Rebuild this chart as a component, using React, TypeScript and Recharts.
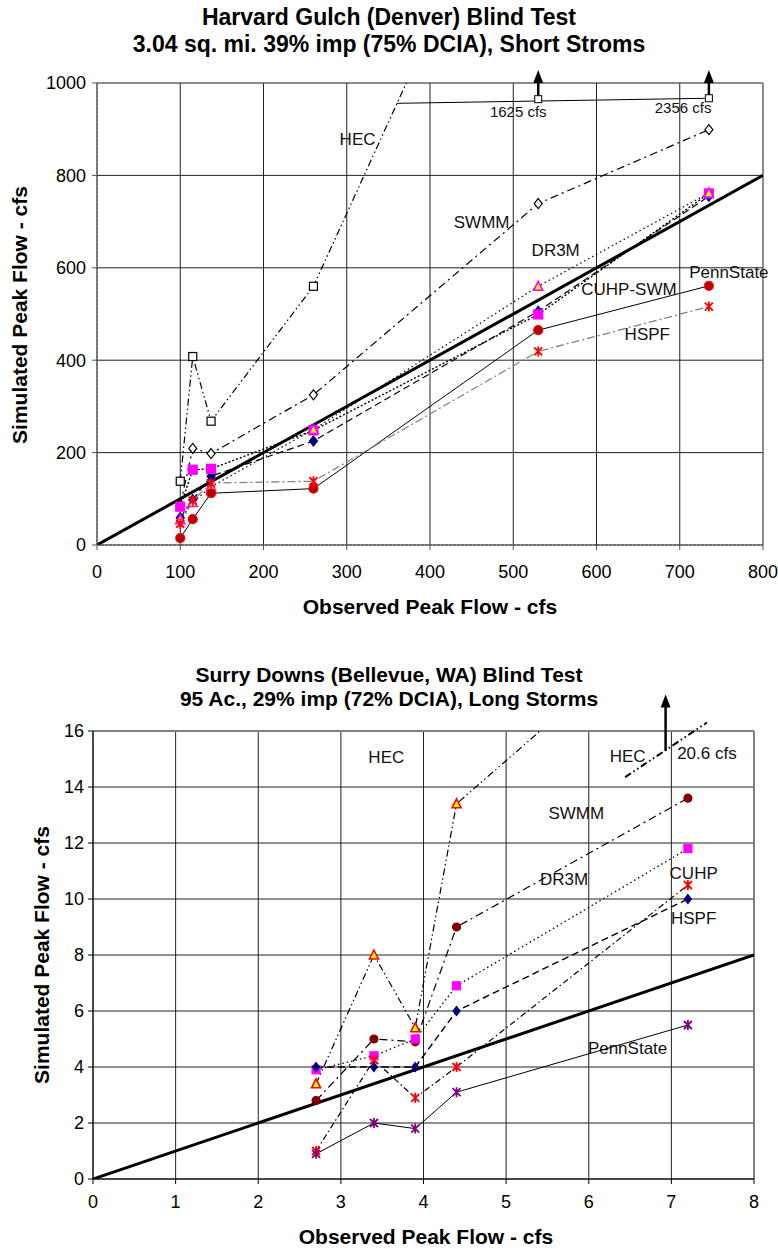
import React from "react";
import {
  CartesianGrid,
  Line,
  LineChart,
  ReferenceDot,
  ReferenceLine,
  XAxis,
  YAxis,
} from "recharts";

const FONT = "'Liberation Sans', Arial, Helvetica, sans-serif";

// Harvard Gulch (Denver), short storms - peak flows in cfs
const hgObserved = [100, 115, 137, 260, 530, 735];
const hgHEC = [138, 408, 268, 560, 1625, 2356];
const hgSWMM = [86, 209, 198, 325, 739, 899];
const hgDR3M = [55, 92, 126, 250, 560, 762];
const hgCUHP = [83, 163, 165, 248, 499, 761];
const hgSWM = [59, 98, 149, 225, 506, 755];
const hgPennState = [15, 56, 112, 122, 465, 561];
const hgHSPF = [46, 96, 134, 138, 419, 516];
const hgXTicks = [0, 100, 200, 300, 400, 500, 600, 700, 800];
const hgYTicks = [0, 200, 400, 600, 800, 1000];
const hgYMinor = [40, 80, 120, 160, 240, 280, 320, 360, 440, 480, 520, 560, 640, 680, 720, 760, 840, 880, 920, 960];

// Surry Downs (Bellevue, WA), long storms - peak flows in cfs
const sdObserved = [2.7, 3.4, 3.9, 4.4, 7.2];
const sdHEC = [3.4, 8.0, 5.4, 13.4, 20.6];
const sdSWMM = [2.8, 5.0, 4.9, 9.0, 13.6];
const sdDR3M = [3.9, 4.4, 5.0, 6.9, 11.8];
const sdCUHP = [1.0, 4.25, 2.9, 4.0, 10.5];
const sdHSPF = [4.0, 4.0, 4.0, 6.0, 10.0];
const sdPennState = [0.9, 2.0, 1.8, 3.1, 5.5];
const sdXTicks = [0, 1, 2, 3, 4, 5, 6, 7, 8];
const sdYTicks = [0, 2, 4, 6, 8, 10, 12, 14, 16];
const sdXMinor = [0.2, 0.4, 0.6, 0.8, 1.2, 1.4, 1.6, 1.8, 2.2, 2.4, 2.6, 2.8, 3.2, 3.4, 3.6, 3.8, 4.2, 4.4, 4.6, 4.8, 5.2, 5.4, 5.6, 5.8, 6.2, 6.4, 6.6, 6.8, 7.2, 7.4, 7.6, 7.8];
const sdYMinor = [1, 3, 5, 7, 9, 11, 13, 15];

const pts = (xs: number[], ys: number[]) => xs.map((x, i) => ({ x, y: ys[i] }));

type Kind = "openSquare" | "openDiamond" | "square" | "diamond" | "triangle" | "circle" | "asterisk";

function Marker({ kind, cx, cy, fill, stroke, s }: any) {
  const h = s / 2;
  switch (kind) {
    case "openSquare":
    case "square":
      return <rect x={cx - h} y={cy - h} width={s} height={s} fill={fill} stroke={stroke} strokeWidth={1.2} />;
    case "openDiamond":
    case "diamond":
      return (
        <path d={`M${cx},${cy - h - 1}L${cx + h},${cy}L${cx},${cy + h + 1}L${cx - h},${cy}Z`} fill={fill} stroke={stroke} strokeWidth={1.2} />
      );
    case "triangle":
      return (
        <path d={`M${cx},${cy - h - 1}L${cx + h + 0.5},${cy + h}L${cx - h - 0.5},${cy + h}Z`} fill={fill} stroke={stroke} strokeWidth={1.6} />
      );
    case "circle":
      return <circle cx={cx} cy={cy} r={h} fill={fill} stroke={stroke} strokeWidth={1.2} />;
    case "asterisk":
      return (
        <path
          d={`M${cx - h},${cy - h}L${cx + h},${cy + h}M${cx + h},${cy - h}L${cx - h},${cy + h}M${cx},${cy - h - 1}L${cx},${cy + h + 1}`}
          stroke={stroke}
          strokeWidth={1.8}
          fill="none"
        />
      );
  }
  return null;
}

const dotFor = (kind: Kind, fill: string, stroke: string, s: number, maxY: number) => (p: any) => {
  const { cx, cy, index, payload } = p;
  if (cx == null || cy == null || payload.y > maxY) return <g key={`d${index}`} />;
  return <Marker key={`d${index}`} kind={kind} cx={cx} cy={cy} fill={fill} stroke={stroke} s={s} />;
};

const textShape = (text: string, size = 17) => (p: any) => (
  <text x={p.cx} y={p.cy} textAnchor="middle" dominantBaseline="central" fontSize={size} fontFamily={FONT} fill="#111">
    {text}
  </text>
);

const arrowHead = (p: any) => <path d={`M${p.cx},${p.cy}L${p.cx - 5},${p.cy + 13}L${p.cx + 5},${p.cy + 13}Z`} fill="#000" />;
const boxShape = (p: any) => <rect x={p.cx - 3.5} y={p.cy - 3.5} width={7} height={7} fill="#fff" stroke="#000" strokeWidth={1} />;

const DDOT = "7 3 1.5 3 1.5 3";
const DOT1 = "8 4 2 4";

const hgSeries = [
  { name: "HEC", ys: hgHEC, kind: "openSquare", fill: "#fff", stroke: "#000", s: 8, line: "#000", dash: DDOT, w: 1.2 },
  { name: "SWMM", ys: hgSWMM, kind: "openDiamond", fill: "#fff", stroke: "#000", s: 8, line: "#000", dash: DOT1, w: 1.2 },
  { name: "SWM", ys: hgSWM, kind: "diamond", fill: "#000080", stroke: "#000080", s: 8, line: "#000", dash: "7 4", w: 1.2 },
  { name: "CUHP", ys: hgCUHP, kind: "square", fill: "#ff00ff", stroke: "#ff00ff", s: 9, line: "#000", dash: "2 2", w: 1.4 },
  { name: "DR3M", ys: hgDR3M, kind: "triangle", fill: "#ffff00", stroke: "#ff00ff", s: 8, line: "#000", dash: "1.5 3", w: 1.2 },
  { name: "PennState", ys: hgPennState, kind: "circle", fill: "#b00000", stroke: "#ff0000", s: 9, line: "#000", dash: undefined, w: 1 },
  { name: "HSPF", ys: hgHSPF, kind: "asterisk", fill: "none", stroke: "#ff0000", s: 8, line: "#808080", dash: "8 3 2 3", w: 1.3 },
];

const sdSeries = [
  { name: "HEC", ys: sdHEC, kind: "triangle", fill: "#ffff00", stroke: "#ff0000", s: 8, line: "#000", dash: DDOT, w: 1.2 },
  { name: "SWMM", ys: sdSWMM, kind: "circle", fill: "#800000", stroke: "#800000", s: 8, line: "#000", dash: DOT1, w: 1.2 },
  { name: "DR3M", ys: sdDR3M, kind: "square", fill: "#ff00ff", stroke: "#ff00ff", s: 8, line: "#000", dash: "1.5 3", w: 1.3 },
  { name: "CUHP", ys: sdCUHP, kind: "asterisk", fill: "none", stroke: "#ff0000", s: 8, line: "#000", dash: "6 3 1.5 3", w: 1.2 },
  { name: "HSPF", ys: sdHSPF, kind: "diamond", fill: "#000080", stroke: "#000080", s: 7, line: "#000", dash: "7 4", w: 1.4 },
  { name: "PennState", ys: sdPennState, kind: "asterisk", fill: "none", stroke: "#800080", s: 8, line: "#000", dash: undefined, w: 1 },
];

const hgLabels = [
  { text: "HEC", x: 313, y: 877 },
  { text: "SWMM", x: 462, y: 698 },
  { text: "DR3M", x: 551, y: 638 },
  { text: "CUHP-SWM", x: 639, y: 553 },
  { text: "PennState", x: 759, y: 589 },
  { text: "HSPF", x: 661, y: 455 },
];

const sdLabels = [
  { text: "HEC", x: 3.55, y: 15.05 },
  { text: "HEC", x: 6.47, y: 15.1 },
  { text: "SWMM", x: 5.85, y: 13.05 },
  { text: "DR3M", x: 5.7, y: 10.7 },
  { text: "CUHP", x: 7.27, y: 10.9 },
  { text: "HSPF", x: 7.27, y: 9.3 },
  { text: "PennState", x: 6.47, y: 4.65 },
];

// HEC values that run off the top of the Harvard Gulch chart
const hgOffScale = [
  { x: 530, value: "1625 cfs", markY: 965, labelX: 506, labelY: 938 },
  { x: 735, value: "2356 cfs", markY: 967, labelX: 704, labelY: 948 },
];

const tickStyle = { fontSize: 18, fill: "#000", fontFamily: FONT };

const titleStyle = (top: number, size: number): React.CSSProperties => ({
  position: "absolute",
  top,
  left: 0,
  width: 778,
  textAlign: "center",
  fontFamily: FONT,
  fontWeight: "bold",
  fontSize: size,
  color: "#000",
  whiteSpace: "nowrap",
});

const yTitleStyle = (cx: number, cy: number): React.CSSProperties => ({
  position: "absolute",
  left: cx - 200,
  top: cy - 13,
  width: 400,
  height: 26,
  lineHeight: "26px",
  textAlign: "center",
  fontFamily: FONT,
  fontWeight: "bold",
  fontSize: 21,
  transform: "rotate(-90deg)",
  whiteSpace: "nowrap",
});

export default function App() {
  return (
    <div style={{ position: "relative", width: 778, height: 1249, background: "#fff" }}>
      <style>{"body{margin:0;background:#fff}"}</style>

      <div style={titleStyle(4, 23)}>Harvard Gulch (Denver) Blind Test</div>
      <div style={titleStyle(31, 23)}>3.04 sq. mi. 39% imp (75% DCIA), Short Stroms</div>
      <div style={yTitleStyle(20, 315)}>Simulated Peak Flow - cfs</div>
      <div style={{ ...titleStyle(595, 21), left: 430 - 389 }}>Observed Peak Flow - cfs</div>

      <div style={{ position: "absolute", top: 0, left: 0 }}>
        <LineChart width={778} height={630} margin={{ top: 83, right: 15, bottom: 55, left: 0 }}>
          <CartesianGrid stroke="#222" strokeWidth={1} />
          <XAxis
            type="number"
            dataKey="x"
            domain={[0, 800]}
            ticks={hgXTicks}
            allowDataOverflow
            height={30}
            tick={tickStyle}
            tickSize={5}
            tickMargin={15}
            stroke="#555"
            axisLine={{ stroke: "#555", strokeDasharray: "3 1" }}
          />
          <YAxis
            type="number"
            domain={[0, 1000]}
            ticks={hgYTicks}
            allowDataOverflow
            width={97}
            tick={tickStyle}
            tickSize={5}
            tickMargin={6}
            stroke="#555"
            axisLine={{ stroke: "#555", strokeDasharray: "3 1" }}
          />
          <YAxis
            yAxisId="minor"
            type="number"
            domain={[0, 1000]}
            ticks={hgYMinor}
            mirror
            width={0}
            axisLine={false}
            tickSize={4}
            tickFormatter={() => ""}
            stroke="#333"
          />
          <ReferenceLine y={1000} stroke="#808080" strokeDasharray="3 2" />
          <ReferenceLine x={800} stroke="#808080" strokeDasharray="3 2" />

          <Line
            data={pts([0, 800], [0, 800])}
            dataKey="y"
            stroke="#000"
            strokeWidth={3}
            dot={false}
            isAnimationActive={false}
          />
          {hgSeries.map((s) => (
            <Line
              key={s.name}
              data={pts(hgObserved, s.ys)}
              dataKey="y"
              stroke={s.line}
              strokeWidth={s.w}
              strokeDasharray={s.dash}
              dot={dotFor(s.kind as Kind, s.fill, s.stroke, s.s, 1000)}
              activeDot={false}
              isAnimationActive={false}
            />
          ))}

          <ReferenceLine segment={[{ x: 360, y: 956 }, { x: 735, y: 967 }]} stroke="#000" strokeWidth={1} ifOverflow="visible" />
          {hgOffScale.map((o) => (
            <ReferenceLine
              key={`a${o.x}`}
              segment={[{ x: o.x, y: o.markY }, { x: o.x, y: 1012 }]}
              stroke="#000"
              strokeWidth={2.5}
              ifOverflow="visible"
            />
          ))}
          {hgOffScale.map((o) => (
            <ReferenceDot key={`h${o.x}`} x={o.x} y={1028} r={0} shape={arrowHead} ifOverflow="visible" />
          ))}
          {hgOffScale.map((o) => (
            <ReferenceDot key={`b${o.x}`} x={o.x} y={o.markY} r={0} shape={boxShape} ifOverflow="visible" />
          ))}
          {hgOffScale.map((o) => (
            <ReferenceDot key={`t${o.x}`} x={o.labelX} y={o.labelY} r={0} shape={textShape(o.value, 15)} ifOverflow="visible" />
          ))}
          {hgLabels.map((l) => (
            <ReferenceDot key={l.text} x={l.x} y={l.y} r={0} shape={textShape(l.text)} ifOverflow="visible" />
          ))}
        </LineChart>
      </div>

      <div style={titleStyle(663, 21)}>Surry Downs (Bellevue, WA) Blind Test</div>
      <div style={titleStyle(687, 21)}>95 Ac., 29% imp (72% DCIA), Long Storms</div>
      <div style={yTitleStyle(42, 955)}>Simulated Peak Flow - cfs</div>
      <div style={{ ...titleStyle(1225, 21), left: 426 - 389 }}>Observed Peak Flow - cfs</div>

      <div style={{ position: "absolute", top: 640, left: 0 }}>
        <LineChart width={778} height={609} margin={{ top: 91, right: 24, bottom: 40, left: 0 }}>
          <CartesianGrid stroke="#222" strokeWidth={1} />
          <XAxis
            type="number"
            dataKey="x"
            domain={[0, 8]}
            ticks={sdXTicks}
            allowDataOverflow
            height={30}
            tick={tickStyle}
            tickSize={5}
            tickMargin={11}
            stroke="#000"
          />
          <XAxis
            xAxisId="minor"
            type="number"
            domain={[0, 8]}
            ticks={sdXMinor}
            mirror
            height={0}
            axisLine={false}
            tickSize={4}
            tickFormatter={() => ""}
            stroke="#333"
          />
          <YAxis
            type="number"
            domain={[0, 16]}
            ticks={sdYTicks}
            allowDataOverflow
            width={93}
            tick={tickStyle}
            tickSize={5}
            tickMargin={4}
            stroke="#000"
          />
          <YAxis
            yAxisId="minor"
            type="number"
            domain={[0, 16]}
            ticks={sdYMinor}
            mirror
            width={0}
            axisLine={false}
            tickSize={4}
            tickFormatter={() => ""}
            stroke="#333"
          />
          <ReferenceLine y={16} stroke="#808080" strokeWidth={2} />
          <ReferenceLine x={8} stroke="#808080" strokeWidth={2} />

          <Line
            data={pts([0, 8], [0, 8])}
            dataKey="y"
            stroke="#000"
            strokeWidth={3}
            dot={false}
            isAnimationActive={false}
          />
          {sdSeries.map((s) => (
            <Line
              key={s.name}
              data={pts(sdObserved, s.ys)}
              dataKey="y"
              stroke={s.line}
              strokeWidth={s.w}
              strokeDasharray={s.dash}
              dot={dotFor(s.kind as Kind, s.fill, s.stroke, s.s, 16)}
              activeDot={false}
              isAnimationActive={false}
            />
          ))}

          <ReferenceLine
            segment={[{ x: 6.44, y: 14.35 }, { x: 7.43, y: 16.3 }]}
            stroke="#000"
            strokeWidth={2}
            strokeDasharray={DDOT}
            ifOverflow="visible"
          />
          <ReferenceLine segment={[{ x: 6.93, y: 15.3 }, { x: 6.93, y: 16.9 }]} stroke="#000" strokeWidth={2.5} ifOverflow="visible" />
          <ReferenceDot x={6.93} y={17.3} r={0} shape={arrowHead} ifOverflow="visible" />
          <ReferenceDot x={7.43} y={15.2} r={0} shape={textShape("20.6 cfs")} ifOverflow="visible" />
          {sdLabels.map((l, i) => (
            <ReferenceDot key={`${l.text}${i}`} x={l.x} y={l.y} r={0} shape={textShape(l.text)} ifOverflow="visible" />
          ))}
        </LineChart>
      </div>
    </div>
  );
}
